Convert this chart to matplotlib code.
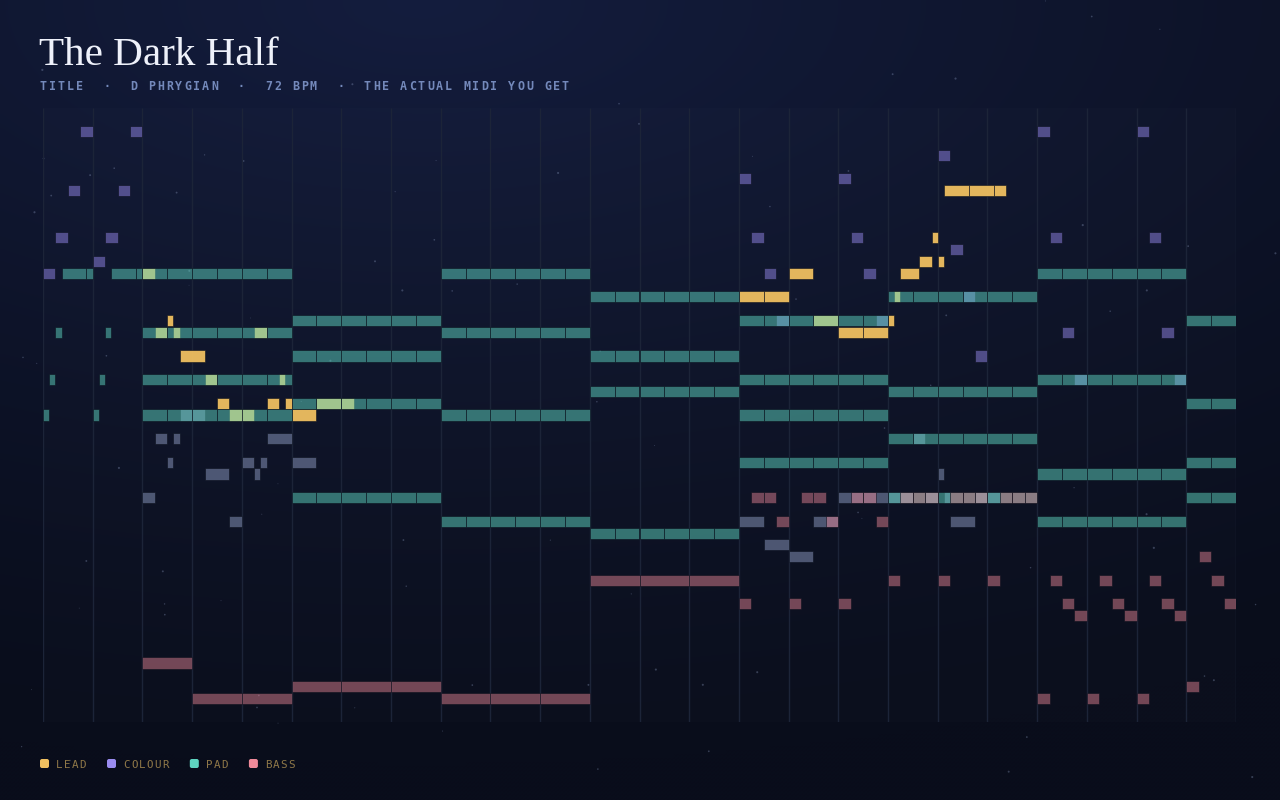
import numpy as np
import matplotlib
matplotlib.use("Agg")
import matplotlib.pyplot as plt
from matplotlib.patches import Rectangle, FancyBboxPatch
from matplotlib.colors import to_rgba

# ---------------- data (time in eighth notes, pitch in MIDI numbers) ----------------
TITLE = "The Dark Half"
SUBTITLE = "TITLE  ·  D PHRYGIAN  ·  72 BPM  ·  THE ACTUAL MIDI YOU GET"
TRACK_NAMES = ["LEAD", "COLOUR", "PAD", "BASS"]
TRACK_COLORS = ["#f0c060", "#9a8cf0", "#5ed4c0", "#f08a9a"]
COUNTER_COLOR = "#8e9cc2"

TOTAL_EIGHTHS = 48
PITCH_LOW, PITCH_HIGH = 36, 88

lead_notes = [
    (4, .5, 74), (4.5, .5, 69), (5, .25, 70), (5.25, .25, 69), (5.5, 1, 67),
    (6.5, .5, 65), (7, .5, 63), (7.5, 1, 62), (8.5, .5, 69), (9, .5, 63),
    (9.5, .25, 65), (9.75, .25, 63), (10, 1, 62), (11, 1.5, 63),
    (28, 2, 72), (30, 1, 74), (31, 1, 70), (32, 2, 69), (34, .25, 70),
    (34.25, .25, 72), (34.5, .75, 74), (35.25, .5, 75), (35.75, .25, 77),
    (36, .25, 75), (36.25, 2.5, 81),
]

colour_notes = [
    (0, .5, 74), (0.5, .5, 77), (1, .5, 81), (1.5, .5, 86),
    (2, .5, 75), (2.5, .5, 77), (3, .5, 81), (3.5, .5, 86),
    (28, .5, 82), (28.5, .5, 77), (29, .5, 74), (29.5, .5, 70),
    (32, .5, 82), (32.5, .5, 77), (33, .5, 74), (33.5, .5, 70),
    (36, .5, 84), (36.5, .5, 76), (37, .5, 72), (37.5, .5, 67),
    (40, .5, 86), (40.5, .5, 77), (41, .5, 69), (41.5, .5, 65),
    (44, .5, 86), (44.5, .5, 77), (45, .5, 69), (45.5, .5, 65),
]

counter_notes = [
    (4, .5, 55), (4.5, .5, 60), (5, .25, 58), (5.25, .25, 60), (5.5, 1, 62),
    (6.5, 1, 57), (7.5, .5, 53), (8, .5, 58), (8.5, .25, 57), (8.75, .25, 58),
    (9, 1, 60), (10, 1, 58),
    (28, 1, 53), (29, 1, 51), (30, 1, 50), (31, 1, 53), (32, 3, 55),
    (35, .5, 60), (35.5, .5, 55), (36, .25, 57), (36.25, .25, 55),
    (36.5, 1, 53), (37.5, 1, 55),
]

pad_arpeggio = [
    (0, .25, 62), (0.25, .25, 65), (0.5, .25, 69), (0.75, 1.25, 74),
    (2, .25, 62), (2.25, .25, 65), (2.5, .25, 69), (2.75, 1.25, 74),
]
pad_chord_starts = [4, 10, 16, 22, 28, 34, 40, 46]
pad_chord_durs = [6, 6, 6, 6, 6, 6, 6, 2]
pad_chord_pitches = [
    [74, 69, 65, 62], [70, 67, 63, 55], [74, 69, 62, 53], [72, 67, 64, 52],
    [70, 65, 62, 58], [72, 64, 60, 55], [74, 65, 57, 53], [70, 63, 58, 55],
]

bass_notes = [
    (4, 2, 41), (6, 4, 38), (10, 6, 39), (16, 6, 38), (22, 6, 48),
    (28, .5, 46), (28.5, .5, 55), (29, .5, 55), (29.5, .5, 53),
    (30, .5, 46), (30.5, .5, 55), (31, .5, 55), (31.5, .5, 53),
    (32, .5, 46), (32.5, .5, 55), (33, .5, 55), (33.5, .5, 53),
    (34, .5, 48), (34.5, .5, 55), (35, .5, 55), (35.5, .5, 55),
    (36, .5, 48), (36.5, .5, 55), (37, .5, 55), (37.5, .5, 55),
    (38, .5, 48), (38.5, .5, 55), (39, .5, 55), (39.5, .5, 55),
    (40, .5, 38), (40.5, .5, 48), (41, .5, 46), (41.5, .5, 45),
    (42, .5, 38), (42.5, .5, 48), (43, .5, 46), (43.5, .5, 45),
    (44, .5, 38), (44.5, .5, 48), (45, .5, 46), (45.5, .5, 45),
    (46, .5, 39), (46.5, .5, 50), (47, .5, 48), (47.5, .5, 46),
]

pad_notes = list(pad_arpeggio)
for s, d, ps in zip(pad_chord_starts, pad_chord_durs, pad_chord_pitches):
    for p in ps:
        pad_notes.append((s, d, p))

# ---------------- figure ----------------
W, H = 1280, 800
fig = plt.figure(figsize=(W / 100, H / 100), dpi=100)

# background gradient
bg = fig.add_axes([0, 0, 1, 1], zorder=0)
bg.set_axis_off()
gy, gx = np.mgrid[0:1:200j, 0:1:320j]
top = np.array([20, 29, 62]) / 255
bot = np.array([9, 13, 27]) / 255
dist = np.sqrt(((gx - 0.33) / 1.3) ** 2 + (gy / 0.95) ** 2)
f = np.clip(1 - dist, 0, 1) ** 1.3
img = bot[None, None, :] + (top - bot)[None, None, :] * f[..., None]
bg.imshow(img, extent=[0, 1, 0, 1], aspect="auto", origin="upper",
          interpolation="bicubic")
rng = np.random.default_rng(11)
n_st = 90
bg.scatter(rng.uniform(0, 1, n_st), rng.uniform(0, 1, n_st),
           s=rng.uniform(0.3, 2.5, n_st), color="#9fb0d8",
           alpha=0.3, linewidths=0)
bg.set_xlim(0, 1)
bg.set_ylim(0, 1)

# piano roll axes
ax = fig.add_axes([43 / W, 78 / H, 1193 / W, 614 / H], zorder=1)
ax.set_facecolor((1, 1, 1, 0.012))
ax.set_xlim(0, TOTAL_EIGHTHS)
ax.set_ylim(PITCH_LOW, PITCH_HIGH)
for sp in ax.spines.values():
    sp.set_visible(False)
ax.set_xticks([])
ax.set_yticks([])
ax.vlines(np.arange(0, TOTAL_EIGHTHS + 1, 2), PITCH_LOW, PITCH_HIGH,
          color="#1c2438", lw=1.0, zorder=1)

EDGE = (0.03, 0.05, 0.10, 0.55)


def draw_notes(notes, color, alpha, step, z):
    fc = to_rgba(color, alpha)
    for start, dur, pitch in notes:
        t = start
        end = start + dur
        while t < end - 1e-9:
            w = min(step, end - t)
            ax.add_patch(Rectangle((t, pitch - 0.47), w, 0.94, facecolor=fc,
                                   edgecolor=EDGE, linewidth=0.7, zorder=z))
            t += w


draw_notes(lead_notes, TRACK_COLORS[0], 0.95, 1, 2)
draw_notes(colour_notes, TRACK_COLORS[1], 0.48, 0.5, 2.1)
draw_notes(counter_notes, COUNTER_COLOR, 0.5, 1, 2.2)
draw_notes(pad_notes, TRACK_COLORS[2], 0.5, 1, 3)
draw_notes(bass_notes, TRACK_COLORS[3], 0.46, 2, 4)

# overlay for text in pixel coordinates
ov = fig.add_axes([0, 0, 1, 1], zorder=2)
ov.set_axis_off()
ov.set_xlim(0, W)
ov.set_ylim(H, 0)
ov.patch.set_alpha(0)

ov.text(39, 65, TITLE, fontfamily="Liberation Serif", fontsize=29.6,
        color="#eef1fa", va="baseline", ha="left")

for i, ch in enumerate(SUBTITLE):
    if ch != " ":
        ov.text(40 + i * 9.0, 90, ch, fontfamily="DejaVu Sans Mono",
                fontsize=8.4, fontweight="bold", color="#7489bb",
                va="baseline", ha="left")

x = 40
adv = 7.9
for name, col in zip(TRACK_NAMES, TRACK_COLORS):
    ov.add_patch(FancyBboxPatch((x + 1, 760), 7, 7,
                                boxstyle="round,pad=1,rounding_size=2",
                                facecolor=col, edgecolor="none"))
    lx = x + 16
    for i, ch in enumerate(name):
        ov.text(lx + i * adv, 767.5, ch, fontfamily="DejaVu Sans Mono",
                fontsize=7.8, color="#8f7848", va="baseline", ha="left")
    x = lx + len(name) * adv - 1.6 + 21

fig.savefig("out.png", dpi=100, facecolor=fig.get_facecolor())
